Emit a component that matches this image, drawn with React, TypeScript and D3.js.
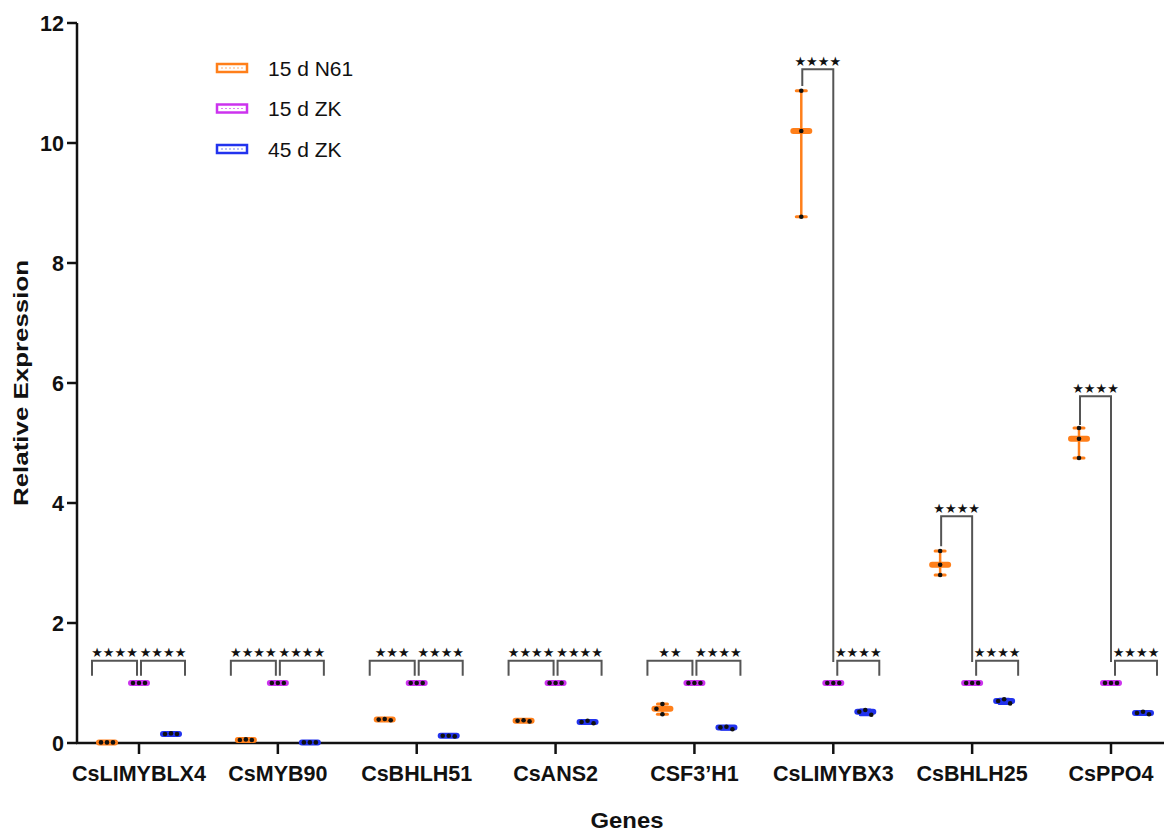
import React from 'react'
import * as d3 from 'd3'

const genes = ['CsLIMYBLX4', 'CsMYB90', 'CsBHLH51', 'CsANS2', 'CSF3\u2019H1', 'CsLIMYBX3', 'CsBHLH25', 'CsPPO4']
const seriesNames = ['15 d N61', '15 d ZK', '45 d ZK']
const seriesColors = ['#FF7F1A', '#CC33EE', '#2233EE']

// three replicates per gene
const n61Values = [
  [0.01, 0.01, 0.01],
  [0.05, 0.05, 0.06],
  [0.38, 0.39, 0.4],
  [0.36, 0.37, 0.38],
  [0.48, 0.57, 0.65],
  [8.77, 10.2, 10.87],
  [2.8, 2.97, 3.2],
  [4.75, 5.07, 5.25],
]
const zk15Values = genes.map(() => [1, 1, 1])
const zk45Values = [
  [0.15, 0.16, 0.15],
  [0.01, 0.01, 0.01],
  [0.11, 0.12, 0.12],
  [0.33, 0.35, 0.37],
  [0.23, 0.26, 0.27],
  [0.47, 0.52, 0.55],
  [0.66, 0.7, 0.73],
  [0.48, 0.5, 0.52],
]

// significance: N61 vs 15d ZK, 15d ZK vs 45d ZK
const sigLeft = ['****', '****', '***', '****', '**', '****', '****', '****']
const sigRight = ['****', '****', '****', '****', '****', '****', '****', '****']
// bracket tops in data units (left bracket), null = default low bracket
const leftBracketTop = [null, null, null, null, null, 11.23, 3.78, 5.78]
const leftBracketLeg = [null, null, null, null, null, 10.95, 3.28, 5.3]

const yTicks = [0, 2, 4, 6, 8, 10, 12]

const W = 1164
const H = 834
const y = d3.scaleLinear().domain([0, 12]).range([743, 23])
const x = d3.scalePoint<string>().domain(genes).range([139, 1111])
const groupOffset = [-32, 0, 32]

function dots(vals: number[]) {
  const sorted = [...vals].sort((a, b) => b - a)
  const placed: { dx: number; py: number }[] = []
  const tries = [0, -6, 6, -12, 12]
  sorted.forEach(v => {
    const py = y(v)
    for (const dx of tries) {
      if (!placed.some(p => p.dx === dx && Math.abs(p.py - py) < 5)) {
        placed.push({ dx, py })
        break
      }
    }
  })
  return placed
}

function Group({ cx, vals, color }: { cx: number; vals: number[]; color: string }) {
  const med = d3.median(vals) ?? 0
  const lo = d3.min(vals) ?? 0
  const hi = d3.max(vals) ?? 0
  return (
    <g>
      <line x1={cx} x2={cx} y1={y(lo)} y2={y(hi)} stroke={color} strokeWidth={2.5} />
      <line x1={cx - 5} x2={cx + 5} y1={y(lo)} y2={y(lo)} stroke={color} strokeWidth={3} strokeLinecap="round" />
      <line x1={cx - 5} x2={cx + 5} y1={y(hi)} y2={y(hi)} stroke={color} strokeWidth={3} strokeLinecap="round" />
      <rect x={cx - 11} y={y(med) - 3} width={22} height={6} rx={3} fill={color} />
      {dots(vals).map((d, i) => (
        <circle key={i} cx={cx + d.dx} cy={d.py} r={2.3} fill="#111" />
      ))}
    </g>
  )
}

function Bracket({ x1, x2, top, leg1, leg2, label }: { x1: number; x2: number; top: number; leg1: number; leg2: number; label: string }) {
  return (
    <g>
      <path d={`M${x1},${leg1}V${top}H${x2}V${leg2}`} fill="none" stroke="#555" strokeWidth={2} />
      <text x={(x1 + x2) / 2} y={top - 3.5} textAnchor="middle" fontSize={13} letterSpacing={0}
        fontFamily="DejaVu Sans" fill="#111">
        {label.replace(/\*/g, '★')}
      </text>
    </g>
  )
}

export default function App() {
  const font = 'Liberation Sans, Arial, sans-serif'
  return (
    <div style={{ position: 'absolute', left: 0, top: 0 }}>
      <svg width={W} height={H} style={{ display: 'block', background: '#fff' }}>
        {/* y axis */}
        <line x1={77} x2={77} y1={y(12)} y2={y(0)} stroke="#111" strokeWidth={2.5} />
        {yTicks.map(t => (
          <g key={t}>
            <line x1={67} x2={77} y1={y(t)} y2={y(t)} stroke="#111" strokeWidth={2.5} />
            <text x={64} y={y(t) + 7.5} textAnchor="end" fontFamily={font} fontWeight="bold" fontSize={21.5} fill="#111">{t}</text>
          </g>
        ))}
        <text transform={`translate(28,${383}) rotate(-90)`} textAnchor="middle" fontFamily={font} fontWeight="bold"
          fontSize={20} textLength={246} lengthAdjust="spacingAndGlyphs" fill="#111">Relative Expression</text>

        {/* x axis */}
        <line x1={76} x2={W} y1={y(0)} y2={y(0)} stroke="#111" strokeWidth={2.5} />
        {genes.map(g => (
          <g key={g}>
            <line x1={x(g)} x2={x(g)} y1={y(0)} y2={y(0) + 11} stroke="#111" strokeWidth={2.5} />
            <text x={x(g)} y={781} textAnchor="middle" fontFamily={font} fontWeight="bold" fontSize={21.5} fill="#111">{g}</text>
          </g>
        ))}
        <text x={627} y={828} textAnchor="middle" fontFamily={font} fontWeight="bold" fontSize={22} textLength={73}
          lengthAdjust="spacingAndGlyphs" fill="#111">Genes</text>

        {/* brackets */}
        {genes.map((g, i) => {
          const cx = x(g) ?? 0
          const lowTop = y(1.37)
          const lowLeg = y(1.12)
          const top = leftBracketTop[i]
          const leg = leftBracketLeg[i]
          return (
            <g key={g}>
              {top == null ? (
                <Bracket x1={cx - 47} x2={cx - 2} top={lowTop} leg1={lowLeg} leg2={lowLeg} label={sigLeft[i]} />
              ) : (
                <Bracket x1={cx - 31} x2={cx} top={y(top)} leg1={y(leg ?? top)} leg2={y(1.35)} label={sigLeft[i]} />
              )}
              <Bracket x1={cx + (top == null ? 2 : 4)} x2={cx + 46} top={lowTop} leg1={lowLeg} leg2={lowLeg} label={sigRight[i]} />
            </g>
          )
        })}

        {/* data */}
        {genes.map((g, i) => {
          const cx = x(g) ?? 0
          return (
            <g key={g}>
              <Group cx={cx + groupOffset[0]} vals={n61Values[i]} color={seriesColors[0]} />
              <Group cx={cx + groupOffset[1]} vals={zk15Values[i]} color={seriesColors[1]} />
              <Group cx={cx + groupOffset[2]} vals={zk45Values[i]} color={seriesColors[2]} />
            </g>
          )
        })}

        {/* legend */}
        {seriesNames.map((s, i) => (
          <g key={s} transform={`translate(216,${68 + i * 40.5})`}>
            <rect x={1} y={-4} width={30} height={8} fill="#fff" stroke={seriesColors[i]} strokeWidth={2.5} />
            <line x1={5} x2={27} y1={0} y2={0} stroke={seriesColors[i]} strokeWidth={1.2} strokeDasharray="2 2" opacity={0.6} />
            <text x={52} y={7.5} fontFamily={font} fontSize={21} fill="#111">{s}</text>
          </g>
        ))}
      </svg>
    </div>
  )
}
